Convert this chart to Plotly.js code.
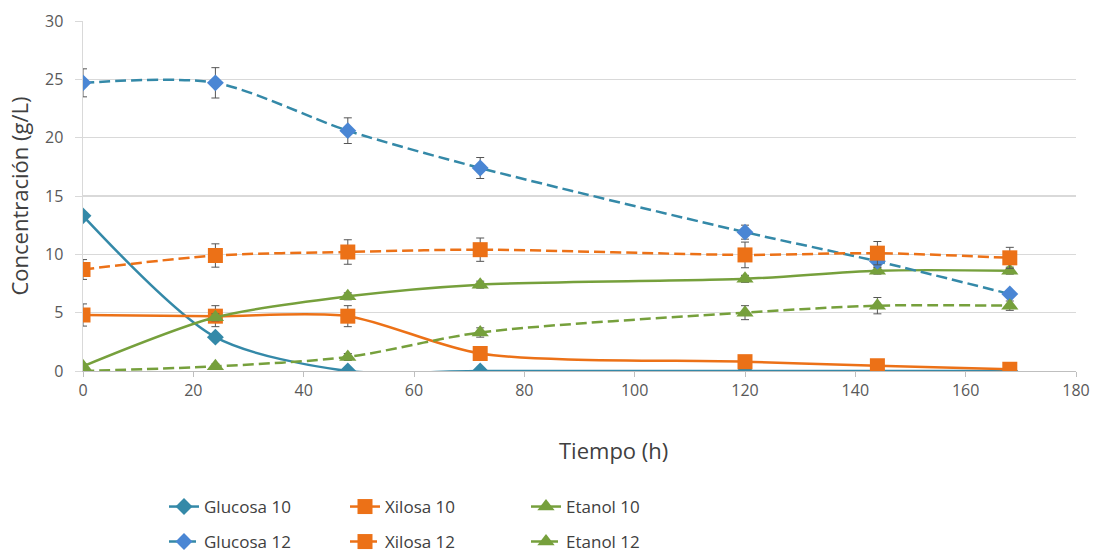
<!DOCTYPE html>
<html>
<head>
<meta charset="utf-8">
<script src="https://cdn.plot.ly/plotly-3.0.1.min.js"></script>
<style>html,body{margin:0;padding:0;background:#fff;}#chart{width:1095px;height:554px;}</style>
</head>
<body>
<div id="chart"></div>
<script>
const tiempo = [0, 24, 48, 72, 120, 144, 168];

const glucosa10 = [13.3, 2.9, 0.0, 0.0, 0.0, 0.0, 0.0];
const glucosa10Err = [0.3, 0.2, 0.1, 0.1, 0.1, 0.1, 0.1];
const xilosa10 = [4.8, 4.7, 4.7, 1.5, 0.8, 0.45, 0.15];
const xilosa10Err = [0.95, 0.9, 0.9, 0.3, 0.3, 0.2, 0.1];
const etanol10 = [0.4, 4.6, 6.4, 7.4, 7.9, 8.6, 8.6];
const etanol10Err = [0.2, 0.3, 0.3, 0.3, 0.3, 0.3, 0.3];

const glucosa12 = [24.7, 24.7, 20.6, 17.4, 11.9, 9.4, 6.6];
const glucosa12Err = [1.2, 1.3, 1.1, 0.9, 0.6, 0.5, 0.3];
const xilosa12 = [8.7, 9.9, 10.2, 10.4, 9.95, 10.1, 9.7];
const xilosa12Err = [0.85, 1.0, 1.05, 1.0, 1.1, 1.0, 0.9];
const etanol12 = [0.0, 0.4, 1.2, 3.3, 5.0, 5.6, 5.6];
const etanol12Err = [0.1, 0.2, 0.3, 0.4, 0.6, 0.7, 0.4];

const teal = '#3489A8';
const blue = '#4A86D4';
const orange = '#EC7117';
const green = '#76A03C';

function mk(name, y, err, lineColor, markerColor, dash, symbol, size, legendId) {
  return {
    type: 'scatter', mode: 'lines+markers', name: name, x: tiempo, y: y,
    legend: legendId,
    line: {color: lineColor, width: 2.5, dash: dash, shape: 'spline', smoothing: 0.8},
    marker: {color: markerColor, symbol: symbol, size: size},
    error_y: {type: 'data', array: err, visible: true, color: '#555', thickness: 1, width: 4}
  };
}

const DASH = '11px,5px';
const traces = [
  mk('Glucosa 10', glucosa10, glucosa10Err, teal, teal, 'solid', 'diamond', 13, 'legend'),
  mk('Xilosa 10', xilosa10, xilosa10Err, orange, orange, 'solid', 'square', 15, 'legend'),
  mk('Etanol 10', etanol10, etanol10Err, green, green, 'solid', 'triangle-up', 15, 'legend'),
  mk('Glucosa 12', glucosa12, glucosa12Err, teal, blue, DASH, 'diamond', 13, 'legend2'),
  mk('Xilosa 12', xilosa12, xilosa12Err, orange, orange, DASH, 'square', 15, 'legend2'),
  mk('Etanol 12', etanol12, etanol12Err, green, green, DASH, 'triangle-up', 15, 'legend2')
];

const fontFam = '"Open Sans", sans-serif';

function legendCfg(yc) {
  return {
    orientation: 'h', xref: 'container', yref: 'container',
    x: 164 / 1095, xanchor: 'left', y: yc, yanchor: 'middle',
    entrywidth: 136, entrywidthmode: 'pixels',
    font: {size: 17, color: '#404040', family: fontFam},
    bgcolor: 'rgba(0,0,0,0)'
  };
}

const layout = {
  width: 1095, height: 554,
  margin: {l: 83, r: 19, t: 21, b: 183},
  paper_bgcolor: '#fff', plot_bgcolor: '#fff',
  font: {family: fontFam, color: '#595959', size: 17},
  showlegend: true,
  xaxis: {
    range: [0, 180], tick0: 0, dtick: 20, showgrid: false, zeroline: false,
    showline: true, linecolor: '#bfbfbf', linewidth: 1,
    ticks: 'outside', ticklen: 5, tickcolor: '#bfbfbf',
    tickfont: {size: 16, color: '#595959', family: fontFam},
    title: {text: ''}
  },
  yaxis: {
    range: [0, 30], tick0: 0, dtick: 5, showgrid: true, gridcolor: '#d9d9d9', gridwidth: 1.5,
    zeroline: false, showline: true, linecolor: '#d9d9d9', linewidth: 1.5,
    ticks: 'outside', ticklen: 7, tickcolor: '#d9d9d9', ticklabelstandoff: 8,
    tickfont: {size: 16, color: '#595959', family: fontFam},
    title: {text: 'Concentración (g/L)', font: {size: 22, color: '#404040', family: fontFam}, standoff: 10}
  },
  annotations: [{
    text: 'Tiempo (h)', xref: 'paper', yref: 'paper',
    x: (613 - 83) / 993, y: -(450 - 371) / 350, xanchor: 'center', yanchor: 'middle', showarrow: false,
    font: {size: 22, color: '#404040', family: fontFam}
  }],
  legend: legendCfg(1 - 507 / 554),
  legend2: legendCfg(1 - 542 / 554)
};

Plotly.newPlot('chart', traces, layout, {displayModeBar: false, staticPlot: true});
</script>
</body>
</html>
